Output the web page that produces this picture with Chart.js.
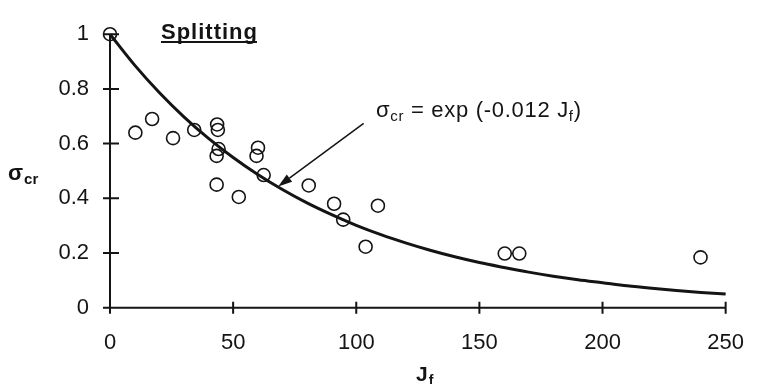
<!DOCTYPE html>
<html>
<head>
<meta charset="utf-8">
<script src="https://cdn.jsdelivr.net/npm/chart.js@4/dist/chart.umd.min.js"></script>
<style>
  html, body { margin: 0; padding: 0; background: #fff; }
  #wrap { position: relative; width: 766px; height: 384px; }
</style>
</head>
<body>
<div id="wrap"><canvas id="c" width="766" height="384"></canvas></div>
<script>
// Axis ticks
const jfTicks = [0, 50, 100, 150, 200, 250];
const jfTickLabels = ['0', '50', '100', '150', '200', '250'];
const sigmaTicks = [0, 0.2, 0.4, 0.6, 0.8, 1];
const sigmaTickLabels = ['0', '0.2', '0.4', '0.6', '0.8', '1'];

// Splitting test results (fibre index J_f vs. critical stress ratio)
const testJf    = [0, 10.3, 17.1, 25.6, 34.2, 43.5, 43.8, 44.1, 43.3, 43.3, 52.3, 60.1, 59.5, 62.4, 80.7, 91.0, 94.7, 103.8, 108.8, 160.3, 166.2, 239.8];
const testSigma = [1.00, 0.64, 0.69, 0.62, 0.65, 0.67, 0.65, 0.58, 0.555, 0.45, 0.405, 0.585, 0.555, 0.485, 0.447, 0.38, 0.322, 0.223, 0.373, 0.198, 0.198, 0.184];

// Fitted curve  σcr = exp(-0.012 Jf), tabulated
const fitJf    = [0, 10, 20, 30, 40, 50, 60, 70, 80, 90, 100, 110, 120, 130, 140, 150, 160, 170, 180, 190, 200, 210, 220, 230, 240, 250];
const fitSigma = [1.000, 0.887, 0.787, 0.698, 0.619, 0.549, 0.487, 0.432, 0.383, 0.340, 0.301, 0.267, 0.237, 0.210, 0.186, 0.165, 0.147, 0.130, 0.115, 0.102, 0.091, 0.080, 0.071, 0.063, 0.056, 0.050];

const INK = '#141414';
const FONT = "'Liberation Sans', Arial, Helvetica, sans-serif";

const testPoints = testJf.map((x, i) => ({ x, y: testSigma[i] }));
const fitPoints = fitJf.map((x, i) => ({ x, y: fitSigma[i] }));

// Axis lines with cross-style tick marks
const axesPlugin = {
  id: 'crossAxes',
  beforeDatasetsDraw(chart) {
    const { ctx, chartArea: a, scales } = chart;
    const xs = scales.x, ys = scales.y;
    ctx.save();
    ctx.strokeStyle = INK;
    ctx.lineWidth = 2;
    ctx.lineCap = 'butt';
    ctx.beginPath();
    ctx.moveTo(a.left, a.bottom);
    ctx.lineTo(a.left, a.top);
    ctx.moveTo(a.left - 7, a.bottom);
    ctx.lineTo(a.right, a.bottom);
    sigmaTicks.forEach(v => {
      const y = ys.getPixelForValue(v);
      ctx.moveTo(a.left - 7, y);
      ctx.lineTo(a.left + 9, y);
    });
    jfTicks.forEach(v => {
      const x = xs.getPixelForValue(v);
      ctx.moveTo(x, a.bottom - 6);
      ctx.lineTo(x, a.bottom + 6);
    });
    ctx.stroke();
    ctx.restore();
  }
};

// Titles, heading and the fitted-curve callout
const labelPlugin = {
  id: 'labels',
  afterDatasetsDraw(chart) {
    const { ctx, scales } = chart;
    const xs = scales.x, ys = scales.y;
    ctx.save();
    ctx.fillStyle = INK;
    ctx.strokeStyle = INK;
    ctx.textBaseline = 'alphabetic';
    ctx.textAlign = 'left';

    // Heading
    ctx.font = `bold 22px ${FONT}`;
    ctx.letterSpacing = '1px';
    const head = 'Splitting';
    const hx = 161, hy = 39;
    ctx.fillText(head, hx, hy);
    const hw = ctx.measureText(head).width - 1;
    ctx.lineWidth = 2;
    ctx.beginPath();
    ctx.moveTo(hx, hy + 3);
    ctx.lineTo(hx + hw, hy + 3);
    ctx.stroke();
    ctx.letterSpacing = '0px';

    // Y axis title: σ_cr
    ctx.font = `bold 22px ${FONT}`;
    ctx.fillText('σ', 8, 180);
    let w = ctx.measureText('σ').width;
    ctx.font = `bold 15px ${FONT}`;
    ctx.fillText('cr', 8 + w + 1, 184);

    // X axis title: J_f
    ctx.font = `bold 21px ${FONT}`;
    ctx.fillText('J', 416, 381);
    w = ctx.measureText('J').width;
    ctx.font = `bold 14px ${FONT}`;
    ctx.fillText('f', 416 + w + 1, 385);

    // Callout text: σcr = exp (-0.012 Jf)
    ctx.letterSpacing = '0.7px';
    let tx = 376;
    const ty = 117;
    const part = (s, size, dy) => {
      ctx.font = `${size}px ${FONT}`;
      ctx.fillText(s, tx, ty + dy);
      tx += ctx.measureText(s).width;
    };
    part('σ', 22, 0);
    part('cr', 15, 4);
    part(' = exp (-0.012 J', 22, 0);
    part('f', 15, 4);
    part(')', 22, 0);
    ctx.letterSpacing = '0px';

    // Arrow from the callout to the curve
    const x0 = xs.getPixelForValue(103), y0 = ys.getPixelForValue(0.674);
    const x1 = xs.getPixelForValue(68.3), y1 = ys.getPixelForValue(0.443);
    const ang = Math.atan2(y1 - y0, x1 - x0);
    const headLen = 14, headW = 4.5;
    const bx = x1 - headLen * Math.cos(ang), by = y1 - headLen * Math.sin(ang);
    ctx.lineWidth = 1.5;
    ctx.beginPath();
    ctx.moveTo(x0, y0);
    ctx.lineTo(bx, by);
    ctx.stroke();
    ctx.beginPath();
    ctx.moveTo(x1, y1);
    ctx.lineTo(bx + headW * Math.sin(ang), by - headW * Math.cos(ang));
    ctx.lineTo(bx - headW * Math.sin(ang), by + headW * Math.cos(ang));
    ctx.closePath();
    ctx.fill();
    ctx.restore();
  }
};

new Chart(document.getElementById('c'), {
  type: 'scatter',
  data: {
    datasets: [
      {
        label: 'exp fit',
        data: fitPoints,
        showLine: true,
        borderColor: INK,
        borderWidth: 3,
        pointRadius: 0,
        cubicInterpolationMode: 'monotone',
        fill: false,
        clip: false,
        order: 2
      },
      {
        label: 'Splitting tests',
        data: testPoints,
        showLine: false,
        pointStyle: 'circle',
        pointRadius: 6.5,
        pointBorderWidth: 1.6,
        pointBorderColor: INK,
        pointBackgroundColor: 'rgba(0,0,0,0)',
        clip: false,
        order: 1
      }
    ]
  },
  options: {
    responsive: false,
    animation: false,
    events: [],
    layout: { padding: { top: 21.7, right: 24, bottom: 0, left: 0 } },
    plugins: {
      legend: { display: false },
      tooltip: { enabled: false },
      title: { display: false }
    },
    scales: {
      x: {
        type: 'linear',
        min: 0,
        max: 250,
        afterBuildTicks: s => { s.ticks = jfTicks.map(v => ({ value: v })); },
        afterFit: s => { s.height = 76.3; },
        grid: { display: false, drawTicks: false },
        border: { display: false },
        ticks: {
          padding: 22,
          color: INK,
          font: { family: FONT, size: 22 },
          maxRotation: 0,
          autoSkip: false,
          callback: (v, i) => jfTickLabels[i]
        }
      },
      y: {
        type: 'linear',
        min: 0,
        max: 1,
        afterBuildTicks: s => { s.ticks = sigmaTicks.map(v => ({ value: v })); },
        afterFit: s => { s.width = 110; },
        grid: { display: false, drawTicks: false },
        border: { display: false },
        ticks: {
          padding: 21,
          color: INK,
          font: { family: FONT, size: 22 },
          autoSkip: false,
          callback: (v, i) => sigmaTickLabels[i]
        }
      }
    }
  },
  plugins: [axesPlugin, labelPlugin]
});
</script>
</body>
</html>
